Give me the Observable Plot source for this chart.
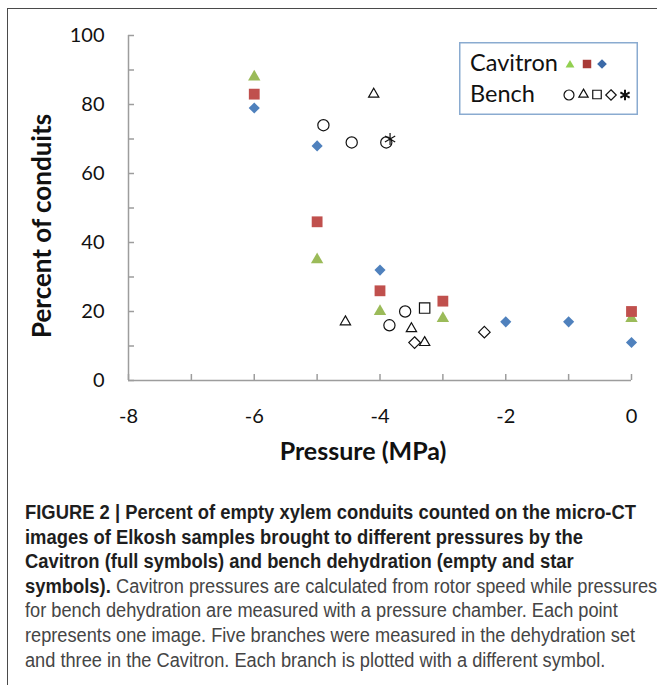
<!DOCTYPE html>
<html>
<head>
<meta charset="utf-8">
<script src="https://cdn.jsdelivr.net/npm/d3@7"></script>
<script src="https://cdn.jsdelivr.net/npm/@observablehq/plot@0.6"></script>
<style>
  html, body { margin: 0; padding: 0; background: #fff; }
  #fig { position: relative; width: 657px; height: 685px; overflow: hidden; }
  #frame { position: absolute; left: 7px; top: 8px; right: -4px; bottom: -4px;
           border-top: 1.5px solid #4a4a4a; border-left: 1.5px solid #4a4a4a; }
  #chart { position: absolute; left: 0; top: 0; }
  #legend { position: absolute; left: 459px; top: 42px; }
  #caption { position: absolute; left: 25px; top: 500px;
             font-family: "Liberation Sans Narrow", "Liberation Sans", Arial, sans-serif;
             font-size: 19.5px; line-height: 24.6px; color: #454545; white-space: nowrap; }
  #caption .line { display: block; height: 24.6px; }
  #caption .seg { display: inline-block; overflow: visible; vertical-align: top; }
  #caption .seg > span { display: inline-block; transform-origin: 0 0; }
  #caption .bold { font-weight: bold; color: #1e1e1e; }
</style>
</head>
<body>
<div id="fig">
  <div id="frame"></div>
  <div id="chart"></div>
  <div id="legend"></div>
  <div id="caption"></div>
</div>
<script>
// ---- data ----
const xTicks = [-8, -7, -6, -5, -4, -3, -2, -1, 0];
const xLabels = [-8, -6, -4, -2, 0];
const yTicks = [0, 10, 20, 30, 40, 50, 60, 70, 80, 90, 100];
const yLabels = [0, 20, 40, 60, 80, 100];

// Cavitron (full symbols), three branches
const cavTriangleX = [-6, -5, -4, -3, 0];
const cavTriangleY = [88, 35, 20, 18, 18];
const cavSquareX = [-6, -5, -4, -3, 0];
const cavSquareY = [83, 46, 26, 23, 20];
const cavDiamondX = [-6, -5, -4, -2, -1, 0];
const cavDiamondY = [79, 68, 32, 17, 17, 11];

// Bench dehydration (empty and star symbols), five branches
const benchCircleX = [-4.9, -4.45, -3.9, -3.85, -3.6];
const benchCircleY = [74, 69, 69, 16, 20];
const benchTriangleX = [-4.1, -4.55, -3.5, -3.29];
const benchTriangleY = [83, 17, 15, 11];
const benchSquareX = [-3.29];
const benchSquareY = [21];
const benchDiamondX = [-3.45, -2.34];
const benchDiamondY = [11, 14];
const benchStarX = [-3.84];
const benchStarY = [70];

const xTitle = "Pressure (MPa)";
const yTitle = "Percent of conduits";
const legendRows = ["Cavitron", "Bench"];

const rows = (xs, ys) => xs.map((x, i) => ({x, y: ys[i]}));

const green = "#9bbb59", red = "#c0504d", blue = "#4f81bd", ink = "#111";
const axisColor = "#9d9d9d";

const chart = Plot.plot({
  width: 657,
  height: 480,
  marginLeft: 128,
  marginRight: 26,
  marginTop: 35,
  marginBottom: 100,
  style: {fontFamily: "Lato, sans-serif", background: "transparent", color: ink, overflow: "visible"},
  x: {domain: [-8, 0]},
  y: {domain: [0, 100]},
  marks: [
    Plot.ruleX([-8], {stroke: axisColor, strokeWidth: 1.5}),
    Plot.ruleY([0], {stroke: axisColor, strokeWidth: 1.5}),
    Plot.axisY(yTicks, {tickSize: 6, dx: 6, tickFormat: () => "", stroke: axisColor, strokeWidth: 1.5, label: null}),
    Plot.axisX(xTicks, {tickSize: 6, dy: -6, tickFormat: () => "", stroke: axisColor, strokeWidth: 1.5, label: null}),
    Plot.axisY(yLabels, {tickSize: 0, tickPadding: 24, fontSize: 20, tickFormat: d => String(d), label: null}),
    Plot.axisX(xLabels, {tickSize: 0, tickPadding: 28, fontSize: 20, tickFormat: d => String(d), label: null}),
    Plot.text([xTitle], {text: d => d, frameAnchor: "bottom", textAnchor: "middle", lineAnchor: "middle",
                         dx: -17, dy: 71, fontSize: 25, fontWeight: "bold"}),
    Plot.text([yTitle], {text: d => d, frameAnchor: "left", textAnchor: "middle", lineAnchor: "middle",
                         rotate: -90, dx: -86, dy: 18, fontSize: 26, fontWeight: "bold"}),
    // Cavitron
    Plot.dot(rows(cavTriangleX, cavTriangleY), {x: "x", y: "y", symbol: "triangle", fill: green, r: 4.6}),
    Plot.dot(rows(cavSquareX, cavSquareY), {x: "x", y: "y", symbol: "square", fill: red, r: 6.1}),
    Plot.dot(rows(cavDiamondX, cavDiamondY), {x: "x", y: "y", symbol: "diamond2", fill: blue, r: 5.0}),
    // Bench
    Plot.dot(rows(benchCircleX, benchCircleY), {x: "x", y: "y", symbol: "circle", stroke: ink, fill: "none", strokeWidth: 1.2, r: 5.6}),
    Plot.dot(rows(benchTriangleX, benchTriangleY), {x: "x", y: "y", symbol: "triangle2", stroke: ink, fill: "none", strokeWidth: 1.2, r: 4.9}),
    Plot.dot(rows(benchSquareX, benchSquareY), {x: "x", y: "y", symbol: "square2", stroke: ink, fill: "none", strokeWidth: 1.2, r: 6.6}),
    Plot.dot(rows(benchDiamondX, benchDiamondY), {x: "x", y: "y", symbol: "diamond2", stroke: ink, fill: "none", strokeWidth: 1.2, r: 5.2}),
    Plot.dot(rows(benchStarX, benchStarY), {x: "x", y: "y", symbol: "asterisk", stroke: ink, fill: "none", strokeWidth: 1.2, r: 5.6})
  ]
});
document.getElementById("chart").appendChild(chart);

// ---- legend (text box as in the original) ----
const lg = d3.select("#legend").append("svg").attr("width", 180).attr("height", 74);
lg.append("rect").attr("x", 0.75).attr("y", 0.75).attr("width", 177.5).attr("height", 71.5)
  .attr("fill", "#fff").attr("stroke", "#8aabd0").attr("stroke-width", 1.5);
lg.selectAll("text").data(legendRows).join("text")
  .attr("x", 11).attr("y", (d, i) => 29 + i * 31)
  .attr("font-family", "Lato, sans-serif").attr("font-size", 23.5).attr("fill", ink)
  .text(d => d);
const legendCav = [
  {sym: d3.symbolTriangle, size: 34, fill: "#92d050", x: 111, y: 23},
  {sym: d3.symbolSquare, size: 72, fill: "#a83a37", x: 128, y: 22},
  {sym: d3.symbolDiamond2, size: 60, fill: "#3b6aa8", x: 143, y: 22}
];
const legendBench = [
  {sym: d3.symbolCircle, size: 78, x: 110, y: 53},
  {sym: d3.symbolTriangle2, size: 62, x: 124.5, y: 52.5},
  {sym: d3.symbolSquare2, size: 92, x: 138, y: 52.5},
  {sym: d3.symbolDiamond2, size: 70, x: 152, y: 53},
  {sym: d3.symbolAsterisk, size: 80, x: 166, y: 53}
];
lg.selectAll("path.cav").data(legendCav).join("path").attr("class", "cav")
  .attr("transform", d => `translate(${d.x},${d.y})`)
  .attr("d", d => d3.symbol(d.sym, d.size)()).attr("fill", d => d.fill);
lg.selectAll("path.bench").data(legendBench).join("path").attr("class", "bench")
  .attr("transform", d => `translate(${d.x},${d.y})`)
  .attr("d", d => d3.symbol(d.sym, d.size)()).attr("fill", "none")
  .attr("stroke", ink).attr("stroke-width", d => d.sym === d3.symbolAsterisk ? 2 : 1.2);

// ---- caption ----
const captionLines = [
  ["FIGURE 2 | Percent of empty xylem conduits counted on the micro-CT", ""],
  ["images of Elkosh samples brought to different pressures by the", ""],
  ["Cavitron (full symbols) and bench dehydration (empty and star", ""],
  ["symbols).", "\u00a0Cavitron pressures are calculated from rotor speed while pressures"],
  ["", "for bench dehydration are measured with a pressure chamber. Each point"],
  ["", "represents one image. Five branches were measured in the dehydration set"],
  ["", "and three in the Cavitron. Each branch is plotted with a different symbol."]
];
const cap = document.getElementById("caption");
cap.innerHTML = captionLines.map(([b, p]) =>
  `<div class="line">` +
  (b ? `<span class="seg bold"><span>${b}</span></span>` : "") +
  (p ? `<span class="seg plain"><span>${p}</span></span>` : "") +
  `</div>`).join("");
// condense the caption (the original uses a condensed face):
// bold part sized from the first line, regular part from the sixth line
const segs = [...cap.querySelectorAll(".seg")];
const natural = segs.map(s => s.firstChild.getBoundingClientRect().width);
const lines = [...cap.querySelectorAll(".line")];
const wBold = lines[0].querySelector(".bold > span").getBoundingClientRect().width;
const wPlain = lines[5].querySelector(".plain > span").getBoundingClientRect().width;
const kBold = 611 / wBold, kPlain = 610 / wPlain;
segs.forEach((s, i) => {
  const k = s.classList.contains("bold") ? kBold : kPlain;
  s.style.width = (natural[i] * k) + "px";
  s.firstChild.style.transform = `scaleX(${k})`;
});
</script>
</body>
</html>
